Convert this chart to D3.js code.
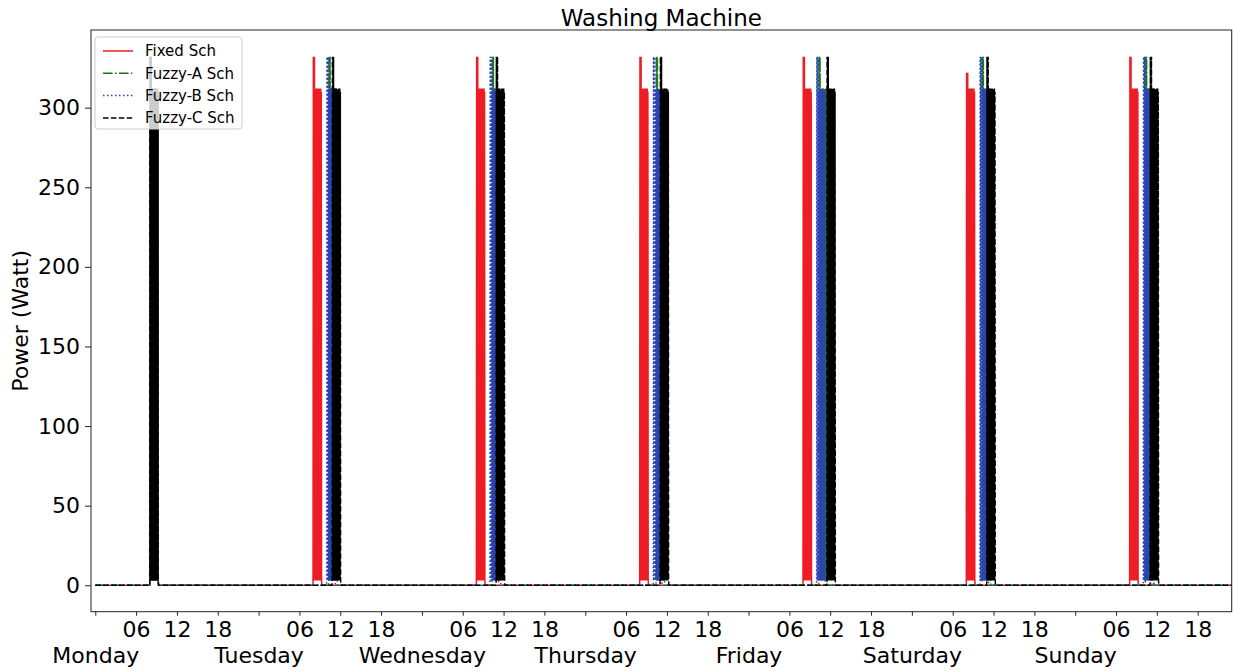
<!DOCTYPE html>
<html>
<head>
<meta charset="utf-8">
<script src="https://cdn.jsdelivr.net/npm/d3@7"></script>
<style>
  html, body { margin: 0; padding: 0; background: #fff; }
  svg { display: block; font-family: "DejaVu Sans", sans-serif; }
</style>
</head>
<body>
<svg id="chart" width="1234" height="671"></svg>
<script>
// Week of washing-machine power traces under four schedules
const days = ["Monday", "Tuesday", "Wednesday", "Thursday", "Friday", "Saturday", "Sunday"];
const hourTicks = [6, 12, 18];
const hourLabels = ["06", "12", "18"];
const yTicks = [0, 50, 100, 150, 200, 250, 300];

// Start hour of the daily wash cycle, per schedule (Monday..Sunday)
const fixedStart  = [8, 8, 8, 8, 8, 8, 8];
const fuzzyAStart = [8, 10.3, 10.3, 10.4, 10.3, 10.3, 10.3];
const fuzzyBStart = [8, 10, 10, 10, 10, 10, 10];
const fuzzyCStart = [8, 10.8, 10.9, 11, 11.5, 11, 11];

// Inrush peak (W) at the start of each daily cycle
const fixedPeak  = [332, 332, 332, 332, 332, 322, 332];
const fuzzyAPeak = [332, 332, 332, 332, 332, 332, 332];
const fuzzyBPeak = [332, 332, 332, 332, 332, 332, 332];
const fuzzyCPeak = [332, 332, 332, 332, 332, 332, 332];

// Motor duty after the inrush, watts at 2.5-minute steps
const cycleRun = [3, 312, 3, 310, 3, 312, 3, 310, 3, 312, 3, 310, 3,
                  312, 3, 310, 3, 312, 3, 310, 3, 312, 3, 310, 3, 0];
const stepMin = 2.5;

const seriesNames  = ["Fixed Sch", "Fuzzy-A Sch", "Fuzzy-B Sch", "Fuzzy-C Sch"];
const seriesStarts = [fixedStart, fuzzyAStart, fuzzyBStart, fuzzyCStart];
const seriesPeaks  = [fixedPeak, fuzzyAPeak, fuzzyBPeak, fuzzyCPeak];
const seriesColors = ["#ee1c25", "#1a7a1a", "#2e3fc0", "#000000"];
const seriesDash   = [null, "9.6,2.4,1.5,2.4", "1.5,2.5", "5.5,2.4"];

const svg = d3.select("#chart");
const plot = { left: 91, right: 1231.7, top: 30, bottom: 611.7 };

const x = d3.scaleLinear().domain([-0.63, 167.0]).range([plot.left, plot.right]);
const y = d3.scaleLinear().domain([-16.6, 348.8]).range([plot.bottom, plot.top]);

// Build each trace: zero baseline with one cycle per day
function buildTrace(starts, peaks) {
  const pts = [[0, 0]];
  days.forEach((_, d) => {
    const t0 = d * 24 + starts[d];
    const p = peaks[d];
    const samples = [3, p, 3, p, 3, p].concat(cycleRun);
    pts.push([t0, 0]);
    samples.forEach((w, i) => pts.push([t0 + (i * stepMin) / 60, w]));
  });
  pts.push([168, 0]);
  return pts;
}

svg.append("defs").append("clipPath").attr("id", "plotClip")
  .append("rect")
  .attr("x", plot.left).attr("y", plot.top)
  .attr("width", plot.right - plot.left).attr("height", plot.bottom - plot.top);

const line = d3.line().x(d => x(d[0])).y(d => y(d[1]));

const traces = svg.append("g").attr("clip-path", "url(#plotClip)");
seriesNames.forEach((name, i) => {
  traces.append("path")
    .datum(buildTrace(seriesStarts[i], seriesPeaks[i]))
    .attr("d", line)
    .attr("fill", "none")
    .attr("stroke", seriesColors[i])
    .attr("stroke-width", 1.5)
    .attr("stroke-dasharray", seriesDash[i]);
});

// Frame
svg.append("rect")
  .attr("x", plot.left).attr("y", plot.top)
  .attr("width", plot.right - plot.left).attr("height", plot.bottom - plot.top)
  .attr("fill", "none").attr("stroke", "#222").attr("stroke-width", 1);

// Y axis
const yAxis = d3.axisLeft(y).tickValues(yTicks).tickSize(6).tickPadding(5);
const gy = svg.append("g").attr("transform", `translate(${plot.left},0)`).call(yAxis);
gy.select(".domain").remove();
gy.selectAll("line").attr("stroke", "#222");
gy.selectAll("text").attr("font-size", 22).attr("fill", "#000")
  .attr("font-family", "DejaVu Sans, sans-serif");

// X axis: hour ticks within each day, day names at midnight
const hourVals = [];
const hourText = [];
days.forEach((_, d) => hourTicks.forEach((h, k) => {
  hourVals.push(d * 24 + h);
  hourText.push(hourLabels[k]);
}));
const dayVals = days.map((_, d) => d * 24);

const xMinor = d3.axisBottom(x).tickValues(hourVals)
  .tickFormat((_, i) => hourText[i]).tickSize(4).tickPadding(6);
const gxm = svg.append("g").attr("transform", `translate(0,${plot.bottom})`).call(xMinor);
gxm.select(".domain").remove();
gxm.selectAll("line").attr("stroke", "#222");
gxm.selectAll("text").attr("font-size", 22).attr("fill", "#000")
  .attr("font-family", "DejaVu Sans, sans-serif");

const xMajor = d3.axisBottom(x).tickValues(dayVals)
  .tickFormat((_, i) => days[i]).tickSize(4).tickPadding(32);
const gxM = svg.append("g").attr("transform", `translate(0,${plot.bottom})`).call(xMajor);
gxM.select(".domain").remove();
gxM.selectAll("line").attr("stroke", "#222");
gxM.selectAll("text").attr("font-size", 22).attr("fill", "#000")
  .attr("font-family", "DejaVu Sans, sans-serif");

// Title and axis label
svg.append("text")
  .attr("x", (plot.left + plot.right) / 2).attr("y", 26)
  .attr("text-anchor", "middle").attr("font-size", 23).attr("fill", "#000")
  .text("Washing Machine");

svg.append("text")
  .attr("transform", `translate(28,${(plot.top + plot.bottom) / 2}) rotate(-90)`)
  .attr("text-anchor", "middle").attr("font-size", 22).attr("fill", "#000")
  .text("Power (Watt)");

// Legend
const legend = svg.append("g").attr("transform", "translate(95,37)");
legend.append("rect")
  .attr("width", 147).attr("height", 92).attr("rx", 3)
  .attr("fill", "#fff").attr("fill-opacity", 0.8)
  .attr("stroke", "#cccccc").attr("stroke-width", 1);
seriesNames.forEach((name, i) => {
  const yy = 14 + i * 22.3;
  legend.append("line")
    .attr("x1", 8).attr("x2", 38).attr("y1", yy).attr("y2", yy)
    .attr("stroke", seriesColors[i]).attr("stroke-width", 1.5)
    .attr("stroke-dasharray", seriesDash[i]);
  legend.append("text")
    .attr("x", 50).attr("y", yy).attr("dy", "0.35em")
    .attr("font-size", 15).attr("fill", "#000")
    .text(name);
});
</script>
</body>
</html>
